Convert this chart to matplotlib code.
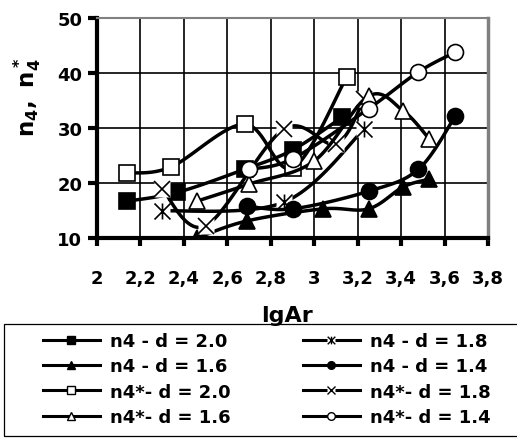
import numpy as np
import matplotlib
matplotlib.use("Agg")
import matplotlib.pyplot as plt
from matplotlib.path import Path
from matplotlib.lines import Line2D
from matplotlib.patches import Rectangle

plt.rcParams["font.family"] = ["DejaVu Sans"]
plt.rcParams["font.weight"] = "bold"
plt.rcParams["mathtext.fontset"] = "dejavusans"

# lgAr and n4 / n4* for each spacing d
lg_n4_20 = [2.14, 2.37, 2.68, 2.90, 3.13]
n4_20 = [16.7, 18.3, 22.5, 26.0, 32.0]
lg_n4_18 = [2.30, 2.86, 3.23]
n4_18 = [14.9, 16.5, 29.8]
lg_n4_16 = [2.46, 2.69, 3.04, 3.25, 3.41, 3.53]
n4_16 = [10.0, 13.1, 15.3, 15.3, 19.3, 20.7]
lg_n4_14 = [2.69, 2.90, 3.25, 3.48, 3.65]
n4_14 = [15.8, 15.3, 18.5, 22.5, 32.2]

lg_n4s_20 = [2.14, 2.34, 2.68, 2.90, 3.15]
n4s_20 = [21.8, 22.9, 30.7, 22.7, 39.3]
lg_n4s_18 = [2.30, 2.50, 2.86, 3.10, 3.23]
n4s_18 = [18.9, 12.2, 29.8, 27.1, 35.3]
lg_n4s_16 = [2.46, 2.70, 3.00, 3.25, 3.41, 3.53]
n4s_16 = [16.7, 19.8, 24.0, 35.8, 33.1, 28.0]
lg_n4s_14 = [2.70, 2.90, 3.25, 3.48, 3.65]
n4s_14 = [22.5, 24.4, 33.5, 40.2, 43.8]

labels = ["n4 - d = 2.0", "n4 - d = 1.8", "n4 - d = 1.6", "n4 - d = 1.4",
          "n4*- d = 2.0", "n4*- d = 1.8", "n4*- d = 1.6", "n4*- d = 1.4"]

x_ticks = [2.0, 2.2, 2.4, 2.6, 2.8, 3.0, 3.2, 3.4, 3.6, 3.8]
x_ticklabels = ["2", "2,2", "2,4", "2,6", "2,8", "3", "3,2", "3,4", "3,6", "3,8"]
y_ticks = [10, 20, 30, 40, 50]

# asterisk marker: an X with a vertical stroke
star_path = Path(
    [(-1, -1), (1, 1), (-1, 1), (1, -1), (0, -1), (0, 1)],
    [Path.MOVETO, Path.LINETO, Path.MOVETO, Path.LINETO, Path.MOVETO, Path.LINETO],
)

# marker, face colour, size
styles = [
    ("s", "black", 12),
    (star_path, "none", 11.5),
    ("^", "black", 12),
    ("o", "black", 11.5),
    ("s", "white", 12),
    ("x", "none", 11.5),
    ("^", "white", 12),
    ("o", "white", 11.5),
]

series = [
    (lg_n4_20, n4_20), (lg_n4_18, n4_18), (lg_n4_16, n4_16), (lg_n4_14, n4_14),
    (lg_n4s_20, n4s_20), (lg_n4s_18, n4s_18), (lg_n4s_16, n4s_16), (lg_n4s_14, n4s_14),
]


def smooth(xs, ys, n=24):
    """Smoothed polyline through the points (cubic Bezier segments)."""
    p = np.column_stack([xs, ys]).astype(float)
    if len(p) < 3:
        return p[:, 0], p[:, 1]
    out = [p[0]]
    t = np.linspace(0, 1, n)[1:, None]
    for i in range(len(p) - 1):
        prev = p[i - 1] if i > 0 else p[i]
        nxt = p[i + 2] if i + 2 < len(p) else p[i + 1]
        c1 = p[i] + (p[i + 1] - prev) / 6.0
        c2 = p[i + 1] - (nxt - p[i]) / 6.0
        seg = ((1 - t) ** 3) * p[i] + 3 * ((1 - t) ** 2) * t * c1 \
            + 3 * (1 - t) * t ** 2 * c2 + t ** 3 * p[i + 1]
        out.extend(seg)
    out = np.array(out)
    return out[:, 0], out[:, 1]


W, H = 517, 439
fig = plt.figure(figsize=(W / 100, H / 100), dpi=100)
ax = fig.add_axes([97 / W, 1 - 239 / H, (488 - 97) / W, (239 - 19) / H])

for i, ((xs, ys), (mk, fc, ms)) in enumerate(zip(series, styles)):
    z = 2 + i * 0.05
    sx, sy = smooth(xs, ys)
    ax.plot(sx, sy, color="black", lw=2.5, solid_capstyle="butt", zorder=z)
    if fc == "none":
        ax.plot(xs, ys, ls="none", marker="s", ms=ms * 0.95, mfc="white", mec="none",
                zorder=z + 0.01)
        ax.plot(xs, ys, ls="none", marker=mk, ms=ms, mfc="none", mec="black",
                mew=1.2, zorder=z + 0.02)
    else:
        ax.plot(xs, ys, ls="none", marker=mk, ms=ms, mfc=fc, mec="black",
                mew=1.2, zorder=z + 0.02)

ax.set_xlim(2.0, 3.8)
ax.set_ylim(10, 50)
ax.set_xticks(x_ticks)
ax.set_xticklabels(x_ticklabels)
ax.set_yticks(y_ticks)
ax.grid(True, color="black", lw=1.2)
ax.tick_params(axis="both", labelsize=13, colors="black")
ax.tick_params(axis="y", length=6.5, width=3, pad=4)
ax.tick_params(axis="x", length=6, width=3, pad=16)
for lab in ax.get_xticklabels() + ax.get_yticklabels():
    lab.set_fontweight("bold")

ax.spines["left"].set_linewidth(3)
ax.spines["bottom"].set_linewidth(3)
ax.spines["top"].set_color("#808080")
ax.spines["top"].set_linewidth(1.5)
ax.spines["right"].set_color("#808080")
ax.spines["right"].set_linewidth(2.5)

fig.text(27 / W, 1 - 97 / H, r"$\mathbf{n_4,\ n_4^*}$", rotation=90,
         ha="center", va="center", fontsize=16.5)
fig.text(287 / W, 1 - 316 / H, "lgAr", ha="center", va="center",
         fontsize=16, fontweight="bold", zorder=5)

# legend frame
fig.add_artist(Rectangle((4 / W, 1 - 437 / H), 520 / W, 112 / H, transform=fig.transFigure,
                         facecolor="none", edgecolor="black", lw=0.9, zorder=4))


def handle(mk, fc):
    line = Line2D([], [], color="black", lw=2.2)
    if fc == "none":
        bg = Line2D([], [], ls="none", marker="s", ms=6, mfc="white", mec="none")
        m = Line2D([], [], ls="none", marker=mk, ms=5.5, mfc="none", mec="black", mew=1.0)
        return (line, bg, m)
    m = Line2D([], [], ls="none", marker=mk, ms=5.5, mfc=fc, mec="black", mew=1.0)
    return (line, m)


handles = [handle(mk, fc) for mk, fc, _ in styles]
cols = [[0, 2, 4, 6], [1, 3, 5, 7]]
for col, x0 in zip(cols, [43, 303]):
    leg = fig.legend([handles[k] for k in col], [labels[k] for k in col],
                     loc="center left", bbox_to_anchor=(x0 / W, 1 - 380 / H),
                     frameon=False, borderpad=0, borderaxespad=0,
                     handlelength=3.15, handletextpad=0.55, labelspacing=0.4,
                     prop={"size": 13, "weight": "bold"})

fig.savefig("out.png", dpi=100)
